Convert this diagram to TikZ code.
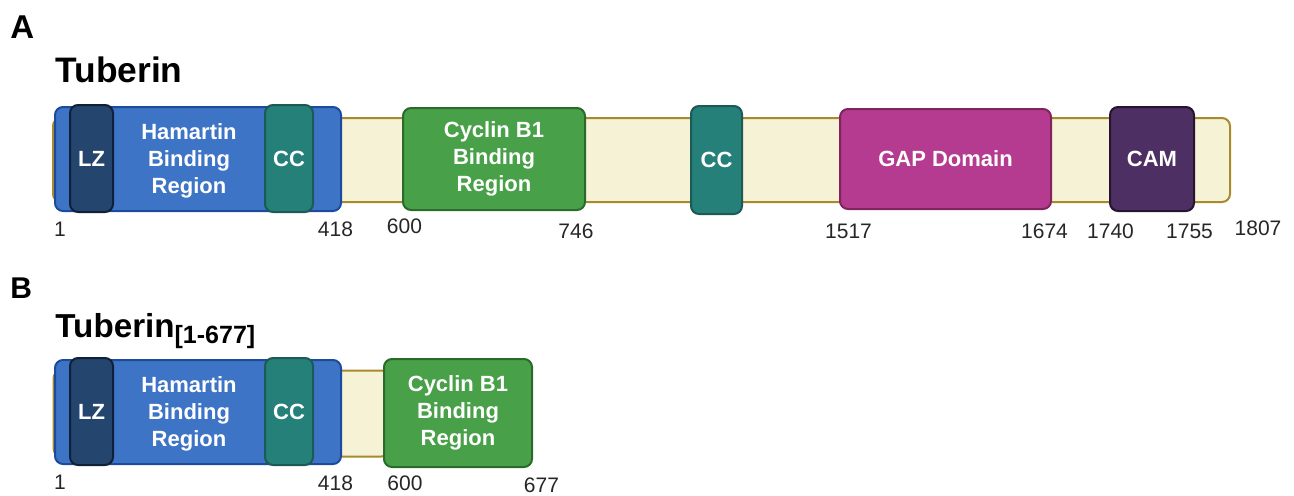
\documentclass[tikz,border=0pt]{standalone}
\usepackage{fontspec}
\setmainfont{Liberation Sans}
\usepackage{xcolor}
\usepackage{tikz}
\usetikzlibrary{positioning}

\definecolor{linkfill}{HTML}{F6F2D6}
\definecolor{linkdraw}{HTML}{A8892C}
\definecolor{hbrfill}{HTML}{3E74C6}
\definecolor{hbrdraw}{HTML}{1C4A9C}
\definecolor{lzfill}{HTML}{23456E}
\definecolor{lzdraw}{HTML}{0F2038}
\definecolor{ccfill}{HTML}{26807A}
\definecolor{ccdraw}{HTML}{1B5A55}
\definecolor{cycfill}{HTML}{48A048}
\definecolor{cycdraw}{HTML}{2A6A2A}
\definecolor{gapfill}{HTML}{B43B8F}
\definecolor{gapdraw}{HTML}{80245E}
\definecolor{camfill}{HTML}{4E2F63}
\definecolor{camdraw}{HTML}{251530}

\begin{document}
\begin{tikzpicture}[
    x=0.5pt, y=-0.5pt,
    dom/.style n args={3}{draw=#1draw, fill=#1fill, line width=1pt, rounded corners=4pt, inner sep=0pt,
        minimum width=#2, minimum height=#3, text=white, align=center,
        font=\bfseries\fontsize{11}{13.5}\selectfont},
    lbl/.style={text=white, align=center, inner sep=0pt, font=\bfseries\fontsize{11}{13.5}\selectfont},
    resnum/.style={inner sep=0pt, text=black!85, font=\fontsize{10.5}{12}\selectfont},
    panel/.style={anchor=base west, inner sep=0pt, font=\bfseries\fontsize{#1}{#1}\selectfont},
    title/.style={anchor=base west, inner sep=0pt, font=\bfseries\fontsize{#1}{#1}\selectfont}
]
\useasboundingbox (0,0) rectangle (1294,495);

% full length
\node[panel=16.5] (pA) at (10,38) {A};
\node[title=17.7] (tubA) at (55,82) {Tuberin};
\node[dom={link}{588.5pt}{42pt}] (linkA) at (641.5,160) {};
\node[dom={hbr}{143pt}{52pt}] (hbrA) at (198,159) {};
\node[dom={lz}{21.5pt}{53.5pt}] (lzA) at (91.5,158.5) {LZ};
\node[dom={cc}{24pt}{53.5pt}] (ccA) at (289,158.5) {CC};
\node[lbl] (hbrtxtA) at (189,161) {Hamartin\\Binding\\Region};
\node[dom={cyc}{91pt}{51pt}] (cycA) at (494,159) {Cyclin B1\\Binding\\Region};
\node[dom={cc}{25.5pt}{54pt}] (cc2A) at (716.5,160) {CC};
\node[dom={gap}{105.5pt}{50pt}] (gapA) at (945.5,159) {GAP Domain};
\node[dom={cam}{42pt}{52pt}] (camA) at (1152,159) {CAM};
\foreach \n/\x/\y in {1/60/229, 418/335.5/229, 600/404.5/226, 746/576/231, 1517/848.5/231,
    1674/1044.5/231, 1740/1110.5/231, 1755/1189.5/231, 1807/1258/228.5}
  \node[resnum] (numA\n) at (\x,\y) {\n};

% truncated
\node[panel=15] (pB) at (10,298) {B};
\node[title=16.6] (tubB) at (55,337) {Tuberin\raisebox{-3pt}{\fontsize{12.5}{13}\selectfont[1-677]}};
\node[dom={link}{168pt}{43pt}] (linkB) at (221.5,413.5) {};
\node[dom={hbr}{143pt}{52pt}] (hbrB) at (198,412) {};
\node[dom={lz}{21.5pt}{53.5pt}] (lzB) at (91.5,411.5) {LZ};
\node[dom={cc}{24pt}{53.5pt}] (ccB) at (289,411.5) {CC};
\node[lbl] (hbrtxtB) at (189,414) {Hamartin\\Binding\\Region};
\node[dom={cyc}{74pt}{54pt}] (cycB) at (458,413) {Cyclin B1\\Binding\\Region};
\foreach \n/\x/\y in {1/60/482, 418/335.5/483, 600/405/483, 677/541.5/485}
  \node[resnum] (numB\n) at (\x,\y) {\n};
\end{tikzpicture}
\end{document}
